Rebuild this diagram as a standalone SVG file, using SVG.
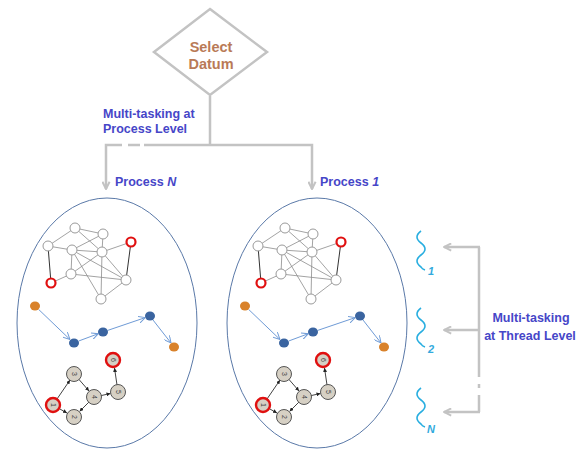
<svg xmlns="http://www.w3.org/2000/svg" xmlns:xlink="http://www.w3.org/1999/xlink" width="581" height="452" viewBox="0 0 581 452">
<style>
.lbl{font-family:"Liberation Sans",Arial,sans-serif;font-weight:bold;font-size:12.5px;fill:#4646c8}
.dat{font-family:"Liberation Sans",Arial,sans-serif;font-weight:bold;font-size:14.5px;fill:#b97a57}
.gray{fill:none;stroke:#c3c3c3;stroke-width:2.5}
.tn{fill:#fff;stroke:#9a9a9a;stroke-width:1}
.tr{fill:#fff;stroke:#e01010;stroke-width:2.2}
.te{stroke:#8c8c8c;stroke-width:0.8}
.ted{stroke:#333;stroke-width:1}
.cb{fill:#3a64a0}
.co{fill:#d9822b}
.ca{stroke:#6f9bd6;stroke-width:1;fill:none}
.bn{fill:#d6d0c4;stroke:#555;stroke-width:1}
.br{fill:#d6d0c4;stroke:#e01010;stroke-width:2.4}
.be{stroke:#444;stroke-width:1}
.bt{font-family:"Liberation Sans",Arial,sans-serif;font-size:7px;fill:#444}
.sq{fill:none;stroke:#29aee0;stroke-width:1.6}
.tl{font-family:"Liberation Sans",Arial,sans-serif;font-weight:bold;font-style:italic;font-size:11px;fill:#33aadd}
.ell{fill:none;stroke:#5a79a8;stroke-width:1}
</style>
<defs>
<marker id="ga" viewBox="0 0 10 10" refX="9" refY="5" markerWidth="9" markerHeight="9" markerUnits="userSpaceOnUse" orient="auto">
<path d="M1,1 L9,5 L1,9" fill="none" stroke="#c3c3c3" stroke-width="2.2"/>
</marker>
<marker id="ba" viewBox="0 0 10 10" refX="10" refY="5" markerWidth="7" markerHeight="7" markerUnits="userSpaceOnUse" orient="auto">
<path d="M0,0 L10,5 L0,10" fill="none" stroke="#6f9bd6" stroke-width="1.4"/>
</marker>
<marker id="ka" viewBox="0 0 10 10" refX="10" refY="5" markerWidth="4" markerHeight="4" markerUnits="userSpaceOnUse" orient="auto">
<path d="M0,0 L10,5 L0,10 z" fill="#222"/>
</marker>
<g id="content">
<g id="topgraph">
<g class="te">
<line x1="75" y1="228" x2="103" y2="234"/>
<line x1="75" y1="228" x2="48" y2="246"/>
<line x1="75" y1="228" x2="102" y2="252"/>
<line x1="103" y1="234" x2="72" y2="250"/>
<line x1="103" y1="234" x2="102" y2="252"/>
<line x1="48" y1="246" x2="72" y2="250"/>
<line x1="72" y1="250" x2="102" y2="252"/>
<line x1="72" y1="250" x2="71" y2="274"/>
<line x1="72" y1="250" x2="126" y2="280"/>
<line x1="72" y1="250" x2="101" y2="299"/>
<line x1="102" y1="252" x2="131" y2="242"/>
<line x1="102" y1="252" x2="71" y2="274"/>
<line x1="102" y1="252" x2="101" y2="299"/>
<line x1="102" y1="252" x2="126" y2="280"/>
<line x1="71" y1="274" x2="51" y2="283"/>
<line x1="71" y1="274" x2="126" y2="280"/>
<line x1="101" y1="299" x2="126" y2="280"/>
</g>
<g class="ted">
<line x1="48" y1="246" x2="51" y2="283"/>
<line x1="131" y1="242" x2="126" y2="280"/>
</g>
<circle class="tn" cx="75" cy="228" r="5"/>
<circle class="tn" cx="103" cy="234" r="5"/>
<circle class="tn" cx="48" cy="246" r="5"/>
<circle class="tn" cx="72" cy="250" r="5"/>
<circle class="tn" cx="102" cy="252" r="5"/>
<circle class="tr" cx="131" cy="242" r="4.5"/>
<circle class="tn" cx="71" cy="274" r="5"/>
<circle class="tr" cx="51" cy="283" r="4.5"/>
<circle class="tn" cx="126" cy="280" r="5"/>
<circle class="tn" cx="101" cy="299" r="5"/>
</g>
<g id="chain">
<g class="ca" marker-end="url(#ba)">
<line x1="38.6" y1="309.4" x2="70" y2="339.5"/>
<line x1="78.7" y1="341" x2="98.3" y2="333.7"/>
<line x1="107.7" y1="330.4" x2="145.3" y2="317.6"/>
<line x1="153" y1="320" x2="171" y2="343"/>
</g>
<ellipse class="co" cx="35" cy="306" rx="5" ry="4.5"/>
<ellipse class="cb" cx="74" cy="343" rx="5" ry="4.5"/>
<ellipse class="cb" cx="103" cy="332" rx="5" ry="4.5"/>
<ellipse class="cb" cx="150" cy="316" rx="5" ry="4.5"/>
<ellipse class="co" cx="174" cy="347" rx="5" ry="4.5"/>
</g>
<g id="bottomgraph">
<g class="be" marker-end="url(#ka)">
<line x1="57" y1="399" x2="70" y2="380"/>
<line x1="59" y1="408.5" x2="67" y2="413"/>
<line x1="78.6" y1="379" x2="89" y2="391"/>
<line x1="89" y1="402" x2="79.5" y2="411.5"/>
<line x1="101" y1="395.6" x2="110.5" y2="393.5"/>
<line x1="117" y1="385" x2="114.5" y2="368"/>
</g>
<circle class="br" cx="53" cy="405" r="7"/>
<circle class="bn" cx="74" cy="417" r="7.5"/>
<circle class="bn" cx="74" cy="374" r="7.5"/>
<circle class="bn" cx="94" cy="397" r="7.5"/>
<circle class="bn" cx="118" cy="392" r="7.5"/>
<circle class="br" cx="113" cy="360" r="7"/>
<text class="bt" transform="translate(53,405) rotate(90)" text-anchor="middle" y="2.5">1</text>
<text class="bt" transform="translate(74,417) rotate(90)" text-anchor="middle" y="2.5">2</text>
<text class="bt" transform="translate(74,374) rotate(90)" text-anchor="middle" y="2.5">3</text>
<text class="bt" transform="translate(94,397) rotate(90)" text-anchor="middle" y="2.5">4</text>
<text class="bt" transform="translate(118,392) rotate(90)" text-anchor="middle" y="2.5">5</text>
<text class="bt" transform="translate(113,360) rotate(90)" text-anchor="middle" y="2.5">6</text>
</g>
</g>
</defs>

<g id="select-datum">
<polygon points="210,9 267,52 210,95 154,52" fill="#fff" stroke="#c3c3c3" stroke-width="2.5"/>
<text class="dat" x="211" y="52" text-anchor="middle">Select</text>
<text class="dat" x="211" y="69" text-anchor="middle">Datum</text>
</g>

<g id="connectors">
<path class="gray" d="M210,96 V145"/>
<path class="gray" d="M144,145 H312 V189" marker-end="url(#ga)"/>
<path class="gray" d="M128,145 H140"/>
<path class="gray" d="M122,145 H106 V189" marker-end="url(#ga)"/>
<path class="gray" d="M479,247 V377"/>
<path class="gray" d="M479,384 V388"/>
<path class="gray" d="M479,395 V412"/>
<path class="gray" d="M480,247 H444" marker-end="url(#ga)"/>
<path class="gray" d="M479,330 H444" marker-end="url(#ga)"/>
<path class="gray" d="M480,412 H444" marker-end="url(#ga)"/>
</g>

<g id="process-level-label">
<text class="lbl" x="103" y="118">Multi-tasking at</text>
<text class="lbl" x="103" y="133">Process Level</text>
</g>

<g id="process-N">
<text class="lbl" x="115" y="186">Process <tspan font-style="italic">N</tspan></text>
<ellipse class="ell" cx="107" cy="323" rx="90" ry="125"/>
<use xlink:href="#content" href="#content"/>
</g>

<g id="process-1">
<text class="lbl" x="320" y="186">Process <tspan font-style="italic">1</tspan></text>
<ellipse class="ell" cx="317" cy="323" rx="90" ry="125"/>
<use xlink:href="#content" href="#content" transform="translate(210,0)"/>
</g>

<g id="threads">
<path class="sq" d="M421,231 q-8,6 0,12 q8,6 0,12 q-8,6 0,12 q1,2 4,3"/>
<text class="tl" x="428" y="275">1</text>
<path class="sq" d="M421,308 q-8,6 0,12 q8,6 0,12 q-8,6 0,12 q1,2 4,3"/>
<text class="tl" x="428" y="353">2</text>
<path class="sq" d="M421,388 q-8,6 0,12 q8,6 0,12 q-8,6 0,12 q1,2 4,3"/>
<text class="tl" x="427" y="433">N</text>
</g>

<g id="thread-level-label">
<text class="lbl" x="531" y="322" text-anchor="middle">Multi-tasking</text>
<text class="lbl" x="530" y="340" text-anchor="middle">at Thread Level</text>
</g>
</svg>
